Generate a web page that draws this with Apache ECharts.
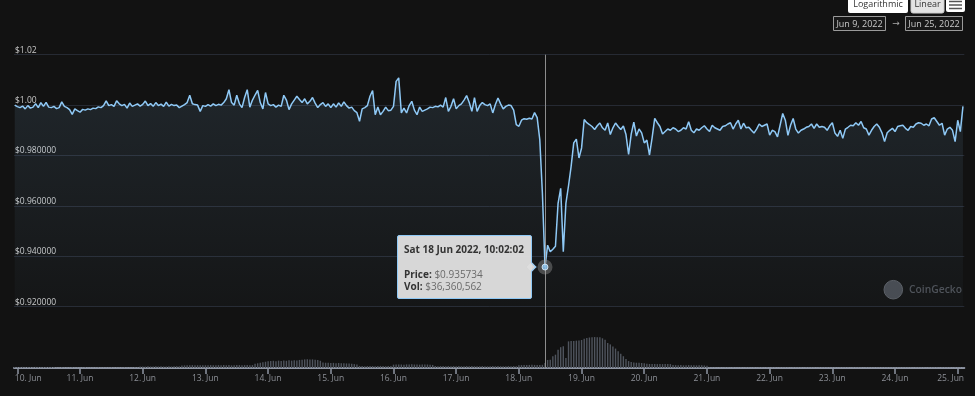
<!DOCTYPE html>
<html>
<head>
<meta charset="utf-8">
<script src="https://cdn.jsdelivr.net/npm/echarts@6/dist/echarts.min.js"></script>
<style>
html,body{margin:0;padding:0;background:#121212;}
#c{width:975px;height:396px;}
</style>
</head>
<body>
<div id="c"></div>
<script>
// ---- time base (hours counted from 10 Jun 2022 00:00 UTC) ----
const startDateUTC = Date.UTC(2022, 5, 10, 0, 0, 0);
const firstHour = -1;
const sampleOffsetHours = 122 / 3600; // samples taken at hh:02:02

// ---- hourly price (USD), from 9 Jun 23:02 to 25 Jun 02:02 ----
const priceValues = [
  // 9 Jun 23h, 10 Jun 0h..23h
  1.0000, 0.9994, 0.9990, 0.9996, 0.9985, 0.9998, 0.9988, 0.9992, 1.0006, 0.9990, 1.0010, 0.9995, 1.0011,
  0.9992, 0.9990, 0.9995, 0.9986, 0.9990, 1.0013, 0.9995, 0.9990, 0.9982, 0.9963, 0.9985, 0.9978,
  // 11 Jun
  0.9972, 0.9983, 0.9980, 0.9985, 0.9982, 0.9988, 0.9986, 0.9993, 0.9990, 0.9998, 1.0017, 0.9998,
  1.0002, 0.9995, 1.0017, 1.0005, 0.9998, 1.0003, 0.9988, 1.0008, 0.9995, 1.0000, 1.0005, 0.9996,
  // 12 Jun
  1.0003, 1.0016, 0.9998, 1.0006, 0.9995, 1.0010, 0.9998, 1.0004, 0.9995, 1.0012, 0.9996, 1.0003,
  0.9998, 1.0000, 0.9990, 0.9996, 1.0002, 1.0010, 1.0039, 1.0005, 1.0002, 1.0000, 0.9975, 0.9998,
  // 13 Jun
  0.9995, 1.0002, 0.9996, 1.0005, 0.9998, 1.0003, 1.0000, 1.0010, 1.0025, 1.0061, 1.0010, 1.0000,
  1.0039, 1.0005, 0.9990, 1.0030, 1.0061, 0.9992, 1.0020, 1.0040, 1.0058, 1.0010, 0.9985, 1.0050,
  // 14 Jun
  1.0005, 0.9998, 1.0002, 0.9992, 1.0000, 0.9995, 1.0039, 1.0020, 0.9982, 1.0005, 1.0020, 1.0035,
  1.0022, 1.0010, 1.0025, 1.0005, 1.0015, 1.0030, 1.0008, 0.9990, 1.0002, 1.0010, 0.9995, 1.0005,
  // 15 Jun
  0.9990, 1.0005, 0.9992, 1.0009, 0.9995, 1.0013, 0.9998, 0.9988, 0.9992, 0.9978, 0.9970, 0.9936,
  0.9985, 0.9990, 0.9998, 1.0035, 1.0058, 0.9962, 0.9992, 0.9962, 0.9975, 0.9992, 0.9978, 0.9980,
  // 16 Jun
  0.9995, 1.0094, 1.0108, 0.9969, 0.9988, 0.9969, 0.9998, 1.0015, 0.9980, 0.9962, 0.9992, 0.9975,
  0.9980, 0.9985, 0.9992, 0.9990, 0.9995, 0.9993, 1.0000, 0.9992, 1.0030, 0.9975, 0.9995, 1.0025,
  // 17 Jun
  0.9985, 0.9998, 1.0005, 1.0020, 1.0038, 1.0010, 0.9975, 1.0030, 0.9975, 0.9998, 1.0010, 1.0002,
  0.9998, 1.0005, 0.9969, 1.0002, 1.0028, 1.0005, 0.9985, 0.9995, 1.0000, 0.9998, 0.9980, 0.9923,
  // 18 Jun
  0.9916, 0.9940, 0.9946, 0.9944, 0.9948, 0.9945, 0.9970, 0.9950, 0.9863, 0.9650, 0.935734, 0.9444,
  0.9418, 0.9428, 0.9440, 0.9610, 0.9670, 0.9418, 0.9610, 0.9680, 0.9757, 0.9850, 0.9865, 0.9790,
  // 19 Jun
  0.9830, 0.9943, 0.9930, 0.9923, 0.9915, 0.9903, 0.9918, 0.9929, 0.9910, 0.9900, 0.9929, 0.9883,
  0.9910, 0.9929, 0.9915, 0.9903, 0.9917, 0.9883, 0.9804, 0.9885, 0.9932, 0.9877, 0.9905, 0.9890,
  // 20 Jun
  0.9850, 0.9861, 0.9802, 0.9870, 0.9947, 0.9930, 0.9915, 0.9885, 0.9895, 0.9905, 0.9900, 0.9910,
  0.9905, 0.9895, 0.9900, 0.9910, 0.9905, 0.9934, 0.9900, 0.9890, 0.9905, 0.9900, 0.9910, 0.9918,
  // 21 Jun
  0.9905, 0.9895, 0.9920, 0.9910, 0.9905, 0.9900, 0.9915, 0.9918, 0.9925, 0.9930, 0.9905, 0.9925,
  0.9940, 0.9905, 0.9928, 0.9910, 0.9912, 0.9900, 0.9889, 0.9905, 0.9925, 0.9915, 0.9920, 0.9925,
  // 22 Jun
  0.9881, 0.9900, 0.9895, 0.9874, 0.9920, 0.9967, 0.9940, 0.9880, 0.9920, 0.9947, 0.9905, 0.9889,
  0.9900, 0.9905, 0.9912, 0.9915, 0.9925, 0.9908, 0.9925, 0.9912, 0.9915, 0.9912, 0.9900, 0.9918,
  // 23 Jun
  0.9930, 0.9889, 0.9876, 0.9900, 0.9868, 0.9905, 0.9912, 0.9920, 0.9918, 0.9930, 0.9920, 0.9935,
  0.9910, 0.9905, 0.9881, 0.9900, 0.9915, 0.9925, 0.9912, 0.9890, 0.9855, 0.9890, 0.9900, 0.9908,
  // 24 Jun
  0.9895, 0.9915, 0.9918, 0.9920, 0.9908, 0.9900, 0.9915, 0.9912, 0.9925, 0.9930, 0.9928, 0.9920,
  0.9925, 0.9918, 0.9945, 0.9950, 0.9935, 0.9920, 0.9928, 0.9881, 0.9905, 0.9912, 0.9900, 0.9855,
  // 25 Jun
  0.9940, 0.9895, 0.9995
];

// ---- hourly 24h volume (million USD) ----
const volumeMillions = [
  7, 6, 7, 8, 6, 7, 7, 6, 8, 7, 6, 7, 7, 6, 7, 6, 2, 2, 3, 2, 2, 2, 3, 2, 2,
  2, 2, 3, 2, 2, 2, 2, 3, 2, 2, 2, 2, 3, 2, 2, 2, 2, 3, 2, 2, 2, 3, 3, 10,
  11, 10, 12, 11, 10, 12, 11, 13, 11, 10, 12, 11, 12, 13, 12, 18, 19, 20, 19, 21, 19, 20, 19, 20,
  20, 19, 21, 20, 19, 21, 20, 22, 20, 21, 19, 20, 22, 21, 20, 21, 22, 20, 21, 30, 34, 38, 42, 45,
  48, 50, 52, 49, 53, 51, 54, 52, 55, 53, 56, 54, 58, 60, 62, 63, 61, 62, 60, 57, 52, 40, 38, 37,
  36, 37, 35, 36, 34, 35, 33, 32, 30, 28, 25, 15, 14, 13, 14, 15, 14, 13, 14, 15, 14, 13, 14, 15,
  24, 25, 26, 25, 24, 26, 25, 27, 25, 26, 24, 25, 26, 25, 24, 22, 14, 13, 14, 15, 13, 14, 13, 14,
  13, 14, 13, 12, 14, 13, 14, 13, 12, 13, 14, 13, 12, 13, 14, 13, 14, 13, 12, 13, 14, 13, 14, 13,
  20, 21, 22, 21, 22, 23, 22, 21, 22, 23, 36.360562, 58, 60, 84, 96, 132, 150, 156, 72, 192, 194, 195, 197, 199,
  202, 210, 217, 220, 222, 223, 222, 221, 214, 204, 180, 170, 155, 140, 120, 102, 85, 65, 50, 43, 40, 38, 37, 36,
  34, 30, 29, 29, 29, 28, 29, 28, 28, 29, 28, 22, 21, 20, 21, 19, 20, 21, 19, 20, 19, 20, 19, 18,
  16, 2, 1, 2, 1, 2, 1, 1, 2, 1, 2, 1, 1, 2, 1, 2, 1, 1, 2, 1, 2, 1, 1, 2,
  1, 2, 1, 1, 2, 1, 2, 1, 1, 2, 1, 2, 1, 1, 2, 1, 2, 1, 1, 2, 1, 2, 1, 1,
  2, 1, 1, 2, 1, 2, 1, 1, 2, 1, 2, 1, 1, 2, 1, 2, 1, 1, 2, 1, 2, 1, 1, 2,
  1, 2, 1, 1, 2, 1, 2, 1, 1, 2, 1, 2, 1, 1, 2, 1, 2, 1, 1, 2, 1, 2, 1, 1,
  1, 2, 1
];

// ---- axes ----
const xTickHours = [0, 24, 48, 72, 96, 120, 144, 168, 192, 216, 240, 264, 288, 312, 336, 360];
const xTickLabels = ['10. Jun', '11. Jun', '12. Jun', '13. Jun', '14. Jun', '15. Jun', '16. Jun', '17. Jun',
  '18. Jun', '19. Jun', '20. Jun', '21. Jun', '22. Jun', '23. Jun', '24. Jun', '25. Jun'];
const yTickValues = [0.92, 0.94, 0.96, 0.98, 1.00, 1.02];
const yTickLabels = ['$0.920000', '$0.940000', '$0.960000', '$0.980000', '$1.00', '$1.02'];
const xMinHour = -1.25, xMaxHour = 362.55;
const highlightIndex = 203; // 18 Jun 10:02:02

const hours = priceValues.map((_, i) => firstHour + i + sampleOffsetHours);
const priceData = hours.map((h, i) => [h, priceValues[i]]);
const volumeData = hours.map((h, i) => [h, volumeMillions[i]]);
const hiPoint = [hours[highlightIndex], priceValues[highlightIndex]];

const WD = ['Sun', 'Mon', 'Tue', 'Wed', 'Thu', 'Fri', 'Sat'];
const MON = ['Jan', 'Feb', 'Mar', 'Apr', 'May', 'Jun', 'Jul', 'Aug', 'Sep', 'Oct', 'Nov', 'Dec'];
const pad = n => (n < 10 ? '0' : '') + n;
function fmtTime(h) {
  const d = new Date(Math.round((startDateUTC + h * 3600000) / 1000) * 1000);
  return WD[d.getUTCDay()] + ' ' + d.getUTCDate() + ' ' + MON[d.getUTCMonth()] + ' ' + d.getUTCFullYear() +
    ', ' + pad(d.getUTCHours()) + ':' + pad(d.getUTCMinutes()) + ':' + pad(d.getUTCSeconds());
}
function fmtInt(n) { return String(n).replace(/\B(?=(\d{3})+(?!\d))/g, ','); }

const FONT = "'Open Sans', 'DejaVu Sans', sans-serif";
const chart = echarts.init(document.getElementById('c'), null, { renderer: 'canvas' });

chart.setOption({
  backgroundColor: '#121212',
  animation: false,
  grid: [
    { left: 14, right: 10.7, top: 54.7, height: 252 },
    { left: 14, right: 10.7, top: 54.7, bottom: 28 }
  ],
  xAxis: [
    { type: 'value', gridIndex: 0, min: xMinHour, max: xMaxHour, show: false },
    {
      type: 'value', gridIndex: 1, min: xMinHour, max: xMaxHour,
      axisLine: { show: true, lineStyle: { color: '#8e95a3', width: 2 } },
      axisTick: { show: true, customValues: xTickHours, length: 6, lineStyle: { color: '#8e95a3', width: 1.5 } },
      splitLine: { show: false },
      axisLabel: {
        customValues: xTickHours, color: '#8c8f96', fontSize: 8.5, fontFamily: FONT, margin: 6,
        formatter: function (v) {
          const i = xTickHours.indexOf(v);
          const lab = i >= 0 ? xTickLabels[i] : '';
          if (i === 0) return '{first|' + lab + '}';
          if (i === xTickHours.length - 1) return '{last|' + lab + '}';
          return lab;
        },
        rich: {
          first: { padding: [0, 0, 0, 22], color: '#8c8f96', fontSize: 8.5, fontFamily: FONT },
          last: { padding: [0, 14, 0, 0], color: '#8c8f96', fontSize: 8.5, fontFamily: FONT }
        }
      }
    }
  ],
  yAxis: [
    {
      type: 'value', gridIndex: 0, min: 0.92, max: 1.02, interval: 0.02,
      axisLine: { show: false }, axisTick: { show: false },
      splitLine: { show: true, lineStyle: { color: '#262a33', width: 1 } },
      axisLabel: {
        inside: true, margin: 1, verticalAlign: 'bottom', lineHeight: 9,
        color: '#c8c8c8', fontSize: 8.5, fontFamily: FONT,
        formatter: function (v) {
          const i = yTickValues.findIndex(t => Math.abs(t - v) < 1e-6);
          return i >= 0 ? yTickLabels[i] : '';
        }
      }
    },
    { type: 'value', gridIndex: 1, min: 0, max: 2258, show: false, splitLine: { show: false } }
  ],
  tooltip: {
    trigger: 'item', position: 'left', alwaysShowContent: true, transitionDuration: 0, showDelay: 0,
    backgroundColor: 'rgba(222,222,222,0.97)', borderColor: '#8fc9f6', borderWidth: 1, borderRadius: 2,
    padding: [7, 7, 5, 6],
    extraCssText: 'box-shadow:none;',
    textStyle: { fontFamily: FONT, fontSize: 10, color: '#333' },
    formatter: function () {
      const i = highlightIndex;
      return '<div style="font-family:\'Open Sans\',sans-serif;font-size:10px;line-height:12.5px;color:#333;">' +
        '<div style="font-weight:bold;">' + fmtTime(hours[i]) + '</div>' +
        '<div style="height:12px"></div>' +
        '<div><b>Price:</b> <span style="color:#6a6a6a">$' + priceValues[i].toFixed(6) + '</span></div>' +
        '<div><b>Vol:</b> <span style="color:#6a6a6a">$' + fmtInt(Math.round(volumeMillions[i] * 1e6)) + '</span></div>' +
        '</div>';
    }
  },
  graphic: [
    { type: 'rect', shape: { x: 848, y: -3, width: 60, height: 16, r: 2 }, style: { fill: '#ffffff' } },
    { type: 'text', x: 878, y: 4.5, style: { text: 'Logarithmic', fill: '#333', font: "9px 'Open Sans'", align: 'center', verticalAlign: 'middle' } },
    { type: 'rect', shape: { x: 911, y: -3, width: 33, height: 16, r: 2 }, style: { fill: '#e4e4e4', stroke: '#cfcfcf', lineWidth: 1 } },
    { type: 'text', x: 927.5, y: 4.5, style: { text: 'Linear', fill: '#333', font: "9px 'Open Sans'", align: 'center', verticalAlign: 'middle' } },
    { type: 'rect', shape: { x: 946, y: -3, width: 19, height: 15, r: 2 }, style: { fill: '#ffffff' } },
    { type: 'line', shape: { x1: 949, y1: 1.5, x2: 962, y2: 1.5 }, style: { stroke: '#555', lineWidth: 1.5 } },
    { type: 'line', shape: { x1: 949, y1: 5, x2: 962, y2: 5 }, style: { stroke: '#555', lineWidth: 1.5 } },
    { type: 'line', shape: { x1: 949, y1: 8.5, x2: 962, y2: 8.5 }, style: { stroke: '#555', lineWidth: 1.5 } },
    { type: 'rect', shape: { x: 833.5, y: 16.5, width: 52, height: 14 }, style: { fill: '#181818', stroke: '#9a9a9a', lineWidth: 1 } },
    { type: 'text', x: 859.5, y: 24, style: { text: 'Jun 9, 2022', fill: '#c8c8c8', font: "9px 'Open Sans'", align: 'center', verticalAlign: 'middle' } },
    { type: 'text', x: 896, y: 23.5, style: { text: '→', fill: '#aaaaaa', font: "9px 'DejaVu Sans'", align: 'center', verticalAlign: 'middle' } },
    { type: 'rect', shape: { x: 905.5, y: 16.5, width: 57, height: 14 }, style: { fill: '#181818', stroke: '#9a9a9a', lineWidth: 1 } },
    { type: 'text', x: 934, y: 24, style: { text: 'Jun 25, 2022', fill: '#c8c8c8', font: "9px 'Open Sans'", align: 'center', verticalAlign: 'middle' } },
    { type: 'circle', shape: { cx: 893.3, cy: 289.7, r: 9.3 }, style: { fill: '#46494f', stroke: '#5a5d63', lineWidth: 1 } },
    { type: 'text', x: 909, y: 290, style: { text: 'CoinGecko', fill: '#4d5056', font: "600 10.3px 'Open Sans'", verticalAlign: 'middle' } }
  ],
  series: [
    {
      name: 'Price', type: 'line', xAxisIndex: 0, yAxisIndex: 0, data: priceData,
      showSymbol: false, symbol: 'none', z: 3, emphasis: { disabled: true }, silent: true,
      lineStyle: { color: '#8fc9f6', width: 1.5 },
      areaStyle: {
        origin: 'start',
        color: new echarts.graphic.LinearGradient(0, 0, 0, 1, [
          { offset: 0, color: 'rgba(143,201,246,0.16)' },
          { offset: 1, color: 'rgba(143,201,246,0.03)' }
        ])
      }
    },
    {
      name: 'Volume', type: 'bar', xAxisIndex: 1, yAxisIndex: 1, data: volumeData,
      barWidth: 1.4, itemStyle: { color: '#4f545d' }, silent: true, z: 2,
      markLine: {
        silent: true, symbol: ['none', 'none'], label: { show: false },
        lineStyle: { color: '#8d8d8d', width: 1, type: 'solid' },
        data: [{ xAxis: hiPoint[0] }]
      }
    },
    {
      name: 'halo', type: 'scatter', xAxisIndex: 0, yAxisIndex: 0, data: [hiPoint],
      symbolSize: 15, itemStyle: { color: 'rgba(165,165,165,0.45)' }, z: 5, silent: true, tooltip: { show: false }
    },
    {
      name: 'Price point', type: 'scatter', xAxisIndex: 0, yAxisIndex: 0, data: [hiPoint],
      symbolSize: 6, itemStyle: { color: '#8fc9f6', borderColor: '#e3f2fd', borderWidth: 1 }, z: 6
    }
  ]
});

chart.dispatchAction({ type: 'showTip', seriesIndex: 3, dataIndex: 0 });
</script>
</body>
</html>
